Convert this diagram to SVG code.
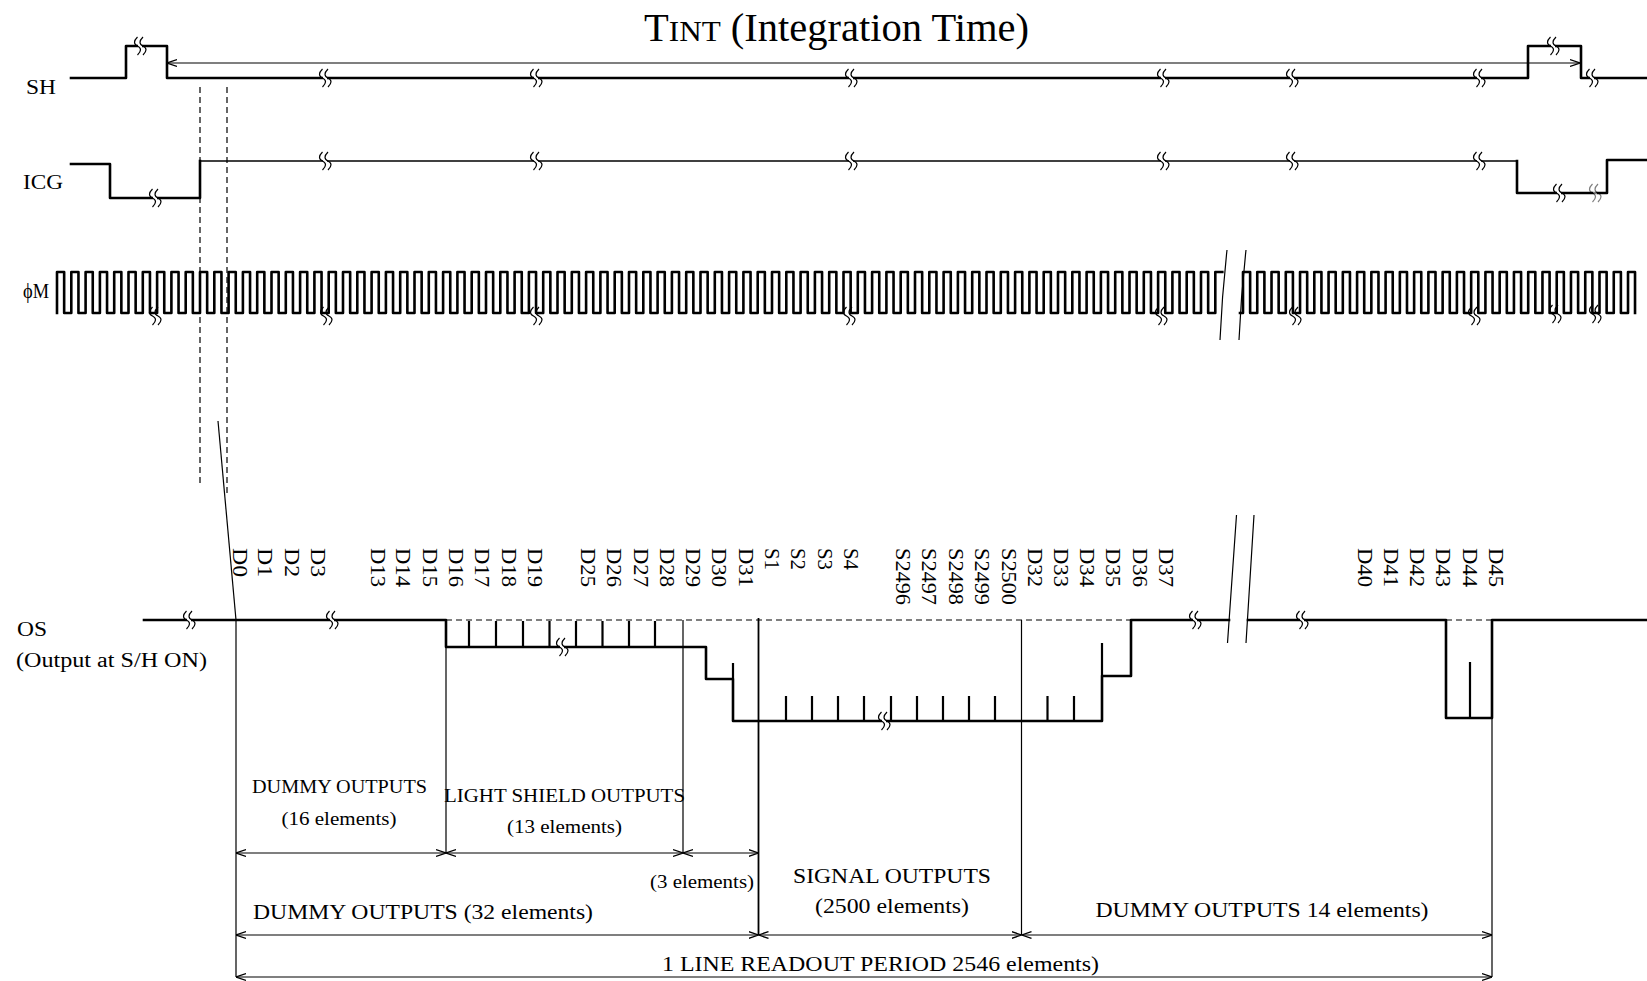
<svg xmlns="http://www.w3.org/2000/svg" xmlns:xlink="http://www.w3.org/1999/xlink" width="1647" height="981" viewBox="0 0 1647 981">
<style>
.thk{fill:none;stroke:#000;stroke-width:2.6;stroke-linejoin:round;stroke-linecap:square}
.med{fill:none;stroke:#000;stroke-width:1.7}
.thn{fill:none;stroke:#000;stroke-width:1.2}
.tick{fill:none;stroke:#000;stroke-width:2.2}
.dash{fill:none;stroke:#000;stroke-width:1.2;stroke-dasharray:6 4}
.dim{fill:none;stroke:#000;stroke-width:1.2;marker-start:url(#ah);marker-end:url(#ah)}
text{font-family:"Liberation Serif","Times New Roman",serif;fill:#000}
.sig{font-size:20px}
.lb{font-size:21px}
.sm{font-size:19.5px;text-anchor:middle}
.bg{font-size:22px;text-anchor:middle}
</style>
<defs>
<marker id="ah" viewBox="0 0 10 8" refX="10" refY="4" markerWidth="10" markerHeight="8" markerUnits="userSpaceOnUse" orient="auto-start-reverse">
<path d="M0,0.6 L10,4 L0,7.4" fill="none" stroke="#000" stroke-width="1.3"/>
</marker>
<g id="brk">
<rect x="-2" y="-3" width="4" height="6" fill="#fff"/>
<path d="M-2.5,-9 C-6.5,-5 -6.5,-2 -2.5,0 S1.5,5 -2.5,9 M3,-9 C-1,-5 -1,-2 3,0 S7,5 3,9" fill="none" stroke="#000" stroke-width="1.2"/>
</g>
<g id="brk2">
<path d="M-2.5,-9 C-6.5,-5 -6.5,-2 -2.5,0 S1.5,5 -2.5,9 M3,-9 C-1,-5 -1,-2 3,0 S7,5 3,9" fill="none" stroke="#000" stroke-width="1.2"/>
</g>
</defs>
<rect width="1647" height="981" fill="#fff"/>

<g id="title">
<text x="836.5" y="41" text-anchor="middle" font-size="39" textLength="385" lengthAdjust="spacingAndGlyphs">T<tspan font-size="30">INT</tspan> (Integration Time)</text>
</g>

<g id="sig-labels">
<text class="sig" x="26" y="94" textLength="30" lengthAdjust="spacingAndGlyphs">SH</text>
<text class="sig" x="23" y="189" textLength="40" lengthAdjust="spacingAndGlyphs">ICG</text>
<text class="sig" x="23" y="298" textLength="26" lengthAdjust="spacingAndGlyphs">ϕM</text>
<text class="sig" x="17" y="636" textLength="30" lengthAdjust="spacingAndGlyphs">OS</text>
<text class="sig" x="16" y="667" textLength="191" lengthAdjust="spacingAndGlyphs">(Output at S/H ON)</text>
</g>

<g id="sig-sh">
<path class="thk" d="M71,78 H126 V46 H167 V78 H1528 V46 H1581 V78 H1647"/>
<use xlink:href="#brk" x="140" y="46"/>
<use xlink:href="#brk" x="325" y="78"/>
<use xlink:href="#brk" x="536" y="78"/>
<use xlink:href="#brk" x="851" y="78"/>
<use xlink:href="#brk" x="1163" y="78"/>
<use xlink:href="#brk" x="1292" y="78"/>
<use xlink:href="#brk" x="1479" y="78"/>
<use xlink:href="#brk" x="1553" y="46"/>
<use xlink:href="#brk" x="1592" y="78"/>
</g>

<g id="sig-icg">
<path class="thk" d="M71,164 H110 V198 H200 V161"/>
<path class="med" d="M200,161 H1517"/>
<path class="thk" d="M1517,161 V193 H1607 V160 H1647"/>
<use xlink:href="#brk" x="155" y="198"/>
<use xlink:href="#brk" x="325" y="161"/>
<use xlink:href="#brk" x="536" y="161"/>
<use xlink:href="#brk" x="851" y="161"/>
<use xlink:href="#brk" x="1163" y="161"/>
<use xlink:href="#brk" x="1292" y="161"/>
<use xlink:href="#brk" x="1479" y="161"/>
<use xlink:href="#brk" x="1559" y="193"/>
<use xlink:href="#brk" x="1595" y="193" opacity="0.5"/>
</g>

<g id="sig-phim">
<path class="thk" d="M57,313 v-41h7.15v41h7.15v-41h7.15v41h7.15v-41h7.15v41h7.15v-41h7.15v41h7.15v-41h7.15v41h7.15v-41h7.15v41h7.15v-41h7.15v41h7.15v-41h7.15v41h7.15v-41h7.15v41h7.15
v-41h7.15v41h7.15v-41h7.15v41h7.15v-41h7.15v41h7.15v-41h7.15v41h7.15v-41h7.15v41h7.15v-41h7.15v41h7.15v-41h7.15v41h7.15v-41h7.15v41h7.15v-41h7.15v41h7.15
v-41h7.15v41h7.15v-41h7.15v41h7.15v-41h7.15v41h7.15v-41h7.15v41h7.15v-41h7.15v41h7.15v-41h7.15v41h7.15v-41h7.15v41h7.15v-41h7.15v41h7.15v-41h7.15v41h7.15
v-41h7.15v41h7.15v-41h7.15v41h7.15v-41h7.15v41h7.15v-41h7.15v41h7.15v-41h7.15v41h7.15v-41h7.15v41h7.15v-41h7.15v41h7.15v-41h7.15v41h7.15v-41h7.15v41h7.15
v-41h7.15v41h7.15v-41h7.15v41h7.15v-41h7.15v41h7.15v-41h7.15v41h7.15v-41h7.15v41h7.15v-41h7.15v41h7.15v-41h7.15v41h7.15v-41h7.15v41h7.15v-41h7.15v41h7.15
v-41h7.15v41h7.15v-41h7.15v41h7.15v-41h7.15v41h7.15v-41h7.15v41h7.15v-41h7.15v41h7.15v-41h7.15v41h7.15v-41h7.15v41h7.15v-41h7.15v41h7.15v-41h7.15v41h7.15
v-41h7.15v41h7.15v-41h7.15v41h7.15v-41h7.15v41h7.15v-41h7.15v41h7.15v-41h7.15v41h7.15v-41h7.15v41h7.15v-41h7.15v41h7.15v-41h7.15v41h7.15v-41h7.15v41h7.15
v-41h7.15v41h7.15v-41h7.15v41h7.15v-41h7.15v41h7.15v-41h7.15v41h7.15v-41h7.15v41h7.15v-41h7.15v41h7.15v-41h7.15v41h7.15v-41h7.15v41h7.15v-41h7.15v41h7.15
v-41h7.15v41h7.15v-41h7.15v41h7.15v-41h7.15v41h7.15v-41h7.15v41h7.15v-41h7.15v41h7.15v-41h7.15v41h7.15v-41h7.15v41h7.15v-41h7.15v41h7.15v-41h7.15v41h7.15
v-41h7"/>
<path class="thk" d="M1240,313 H1243 v-41h7.13v41h7.13v-41h7.13v41h7.13v-41h7.13v41h7.13v-41h7.13v41h7.13v-41h7.13v41h7.13v-41h7.13v41h7.13v-41h7.13v41h7.13v-41h7.13v41h7.13v-41h7.13v41h7.13
v-41h7.13v41h7.13v-41h7.13v41h7.13v-41h7.13v41h7.13v-41h7.13v41h7.13v-41h7.13v41h7.13v-41h7.13v41h7.13v-41h7.13v41h7.13v-41h7.13v41h7.13v-41h7.13v41h7.13
v-41h7.13v41h7.13v-41h7.13v41h7.13v-41h7.13v41h7.13v-41h7.13v41h7.13v-41h7.13v41h7.13v-41h7.13v41h7.13v-41h7.13v41h7.13v-41h7.13v41h7.13v-41h7.13v41h7.13
v-41h7v41"/>
<use xlink:href="#brk2" x="155" y="316"/>
<use xlink:href="#brk2" x="326" y="316"/>
<use xlink:href="#brk2" x="536" y="316"/>
<use xlink:href="#brk2" x="849" y="316"/>
<use xlink:href="#brk2" x="1161" y="316"/>
<use xlink:href="#brk2" x="1295" y="316"/>
<use xlink:href="#brk2" x="1474" y="316"/>
<use xlink:href="#brk2" x="1555" y="314"/>
<use xlink:href="#brk2" x="1595" y="314"/>
<path class="thn" d="M1227,250 Q1222,295 1220,340 M1246,250 Q1241,295 1239,340"/>
</g>

<g id="guides">
<path class="dash" d="M200,87 V485 M227,87 V497"/>
<path class="thn" d="M218,421 L236,620"/>
</g>

<g id="sig-os">
<path class="dash" d="M446,620 H1131 M1446,620 H1492"/>
<path class="thk" d="M144,620 H446 V647 H706 V679 H733 V721 H1102 V676 H1131 V620 H1229 M1248,620 H1446 V718 H1492 V620 H1647"/>
<path class="tick" d="M469,621 V647 M496,621 V647 M523,621 V647 M549.5,621 V647 M576,621 V647 M602.5,621 V647 M629,621 V647 M655,621 V647
M733,663 V679
M786,696 V721 M812,696 V721 M838,696 V721 M864,696 V721 M891,696 V721 M917,696 V721 M943,696 V721 M969,696 V721 M995,696 V721 M1047.5,696 V721 M1074,696 V721
M1102,643 V676 M1470,662 V718"/>
<use xlink:href="#brk" x="189" y="620"/>
<use xlink:href="#brk" x="332" y="620"/>
<use xlink:href="#brk" x="562" y="647"/>
<use xlink:href="#brk" x="884" y="721"/>
<use xlink:href="#brk" x="1195" y="620"/>
<use xlink:href="#brk" x="1302" y="620"/>
<path class="thn" d="M1236.5,515 Q1232,580 1227.5,643 M1254,515 Q1250,580 1246,643"/>
</g>

<g id="element-labels" class="lb">
<text transform="translate(232.5,548) rotate(90)" textLength="29" lengthAdjust="spacingAndGlyphs">D0</text>
<text transform="translate(258,548) rotate(90)" textLength="29" lengthAdjust="spacingAndGlyphs">D1</text>
<text transform="translate(284.5,548) rotate(90)" textLength="29" lengthAdjust="spacingAndGlyphs">D2</text>
<text transform="translate(311,548) rotate(90)" textLength="29" lengthAdjust="spacingAndGlyphs">D3</text>
<text transform="translate(370.5,548) rotate(90)" textLength="39" lengthAdjust="spacingAndGlyphs">D13</text>
<text transform="translate(396,548) rotate(90)" textLength="39" lengthAdjust="spacingAndGlyphs">D14</text>
<text transform="translate(422.5,548) rotate(90)" textLength="39" lengthAdjust="spacingAndGlyphs">D15</text>
<text transform="translate(449,548) rotate(90)" textLength="39" lengthAdjust="spacingAndGlyphs">D16</text>
<text transform="translate(475,548) rotate(90)" textLength="39" lengthAdjust="spacingAndGlyphs">D17</text>
<text transform="translate(501.5,548) rotate(90)" textLength="39" lengthAdjust="spacingAndGlyphs">D18</text>
<text transform="translate(528,548) rotate(90)" textLength="39" lengthAdjust="spacingAndGlyphs">D19</text>
<text transform="translate(580.5,548) rotate(90)" textLength="39" lengthAdjust="spacingAndGlyphs">D25</text>
<text transform="translate(607,548) rotate(90)" textLength="39" lengthAdjust="spacingAndGlyphs">D26</text>
<text transform="translate(633.5,548) rotate(90)" textLength="39" lengthAdjust="spacingAndGlyphs">D27</text>
<text transform="translate(660,548) rotate(90)" textLength="39" lengthAdjust="spacingAndGlyphs">D28</text>
<text transform="translate(686,548) rotate(90)" textLength="39" lengthAdjust="spacingAndGlyphs">D29</text>
<text transform="translate(712,548) rotate(90)" textLength="39" lengthAdjust="spacingAndGlyphs">D30</text>
<text transform="translate(738.5,548) rotate(90)" textLength="39" lengthAdjust="spacingAndGlyphs">D31</text>
<text transform="translate(764.5,548) rotate(90)" textLength="22" lengthAdjust="spacingAndGlyphs">S1</text>
<text transform="translate(791,548) rotate(90)" textLength="22" lengthAdjust="spacingAndGlyphs">S2</text>
<text transform="translate(817.5,548) rotate(90)" textLength="22" lengthAdjust="spacingAndGlyphs">S3</text>
<text transform="translate(843.5,548) rotate(90)" textLength="22" lengthAdjust="spacingAndGlyphs">S4</text>
<text transform="translate(896,548) rotate(90)" textLength="57" lengthAdjust="spacingAndGlyphs">S2496</text>
<text transform="translate(922,548) rotate(90)" textLength="57" lengthAdjust="spacingAndGlyphs">S2497</text>
<text transform="translate(948.5,548) rotate(90)" textLength="57" lengthAdjust="spacingAndGlyphs">S2498</text>
<text transform="translate(975,548) rotate(90)" textLength="57" lengthAdjust="spacingAndGlyphs">S2499</text>
<text transform="translate(1001.5,548) rotate(90)" textLength="57" lengthAdjust="spacingAndGlyphs">S2500</text>
<text transform="translate(1028,548) rotate(90)" textLength="39" lengthAdjust="spacingAndGlyphs">D32</text>
<text transform="translate(1054,548) rotate(90)" textLength="39" lengthAdjust="spacingAndGlyphs">D33</text>
<text transform="translate(1080,548) rotate(90)" textLength="39" lengthAdjust="spacingAndGlyphs">D34</text>
<text transform="translate(1106,548) rotate(90)" textLength="39" lengthAdjust="spacingAndGlyphs">D35</text>
<text transform="translate(1133,548) rotate(90)" textLength="39" lengthAdjust="spacingAndGlyphs">D36</text>
<text transform="translate(1159,548) rotate(90)" textLength="39" lengthAdjust="spacingAndGlyphs">D37</text>
<text transform="translate(1358,548) rotate(90)" textLength="39" lengthAdjust="spacingAndGlyphs">D40</text>
<text transform="translate(1384,548) rotate(90)" textLength="39" lengthAdjust="spacingAndGlyphs">D41</text>
<text transform="translate(1410,548) rotate(90)" textLength="39" lengthAdjust="spacingAndGlyphs">D42</text>
<text transform="translate(1436,548) rotate(90)" textLength="39" lengthAdjust="spacingAndGlyphs">D43</text>
<text transform="translate(1462.5,548) rotate(90)" textLength="39" lengthAdjust="spacingAndGlyphs">D44</text>
<text transform="translate(1489,548) rotate(90)" textLength="39" lengthAdjust="spacingAndGlyphs">D45</text>
</g>

<g id="connectors">
<path class="dim" d="M167,63 H1580"/>
<path class="thn" d="M236,620 V977 M446,647 V853 M683,620 V853 M1021.5,620 V935 M1492,718 V977"/>
<path fill="none" stroke="#000" stroke-width="1.8" d="M758.5,618 V935"/>
<path class="dim" d="M236,853 H446"/>
<path class="dim" d="M446,853 H683"/>
<path class="dim" d="M683,853 H758.5"/>
<path class="dim" d="M236,935 H758.5"/>
<path class="dim" d="M758.5,935 H1021.5"/>
<path class="dim" d="M1021.5,935 H1492"/>
<path class="dim" d="M236,977 H1492"/>
</g>

<g id="dim-labels">
<text class="sm" x="339.5" y="793" textLength="175" lengthAdjust="spacingAndGlyphs">DUMMY OUTPUTS</text>
<text class="sm" x="339" y="825" textLength="115" lengthAdjust="spacingAndGlyphs">(16 elements)</text>
<text class="sm" x="564.5" y="802" textLength="241" lengthAdjust="spacingAndGlyphs">LIGHT SHIELD OUTPUTS</text>
<text class="sm" x="564.5" y="833" textLength="115" lengthAdjust="spacingAndGlyphs">(13 elements)</text>
<text class="sm" x="702" y="888" textLength="104" lengthAdjust="spacingAndGlyphs">(3 elements)</text>
<text class="bg" x="423" y="919" textLength="340" lengthAdjust="spacingAndGlyphs">DUMMY OUTPUTS (32 elements)</text>
<text class="bg" x="892" y="883" textLength="198" lengthAdjust="spacingAndGlyphs">SIGNAL OUTPUTS</text>
<text class="bg" x="892" y="913" font-size="21" textLength="154" lengthAdjust="spacingAndGlyphs">(2500 elements)</text>
<text class="bg" x="1262" y="917" textLength="333" lengthAdjust="spacingAndGlyphs">DUMMY OUTPUTS 14 elements)</text>
<text class="bg" x="880.5" y="971" textLength="437" lengthAdjust="spacingAndGlyphs">1 LINE READOUT PERIOD 2546 elements)</text>
</g>
</svg>
